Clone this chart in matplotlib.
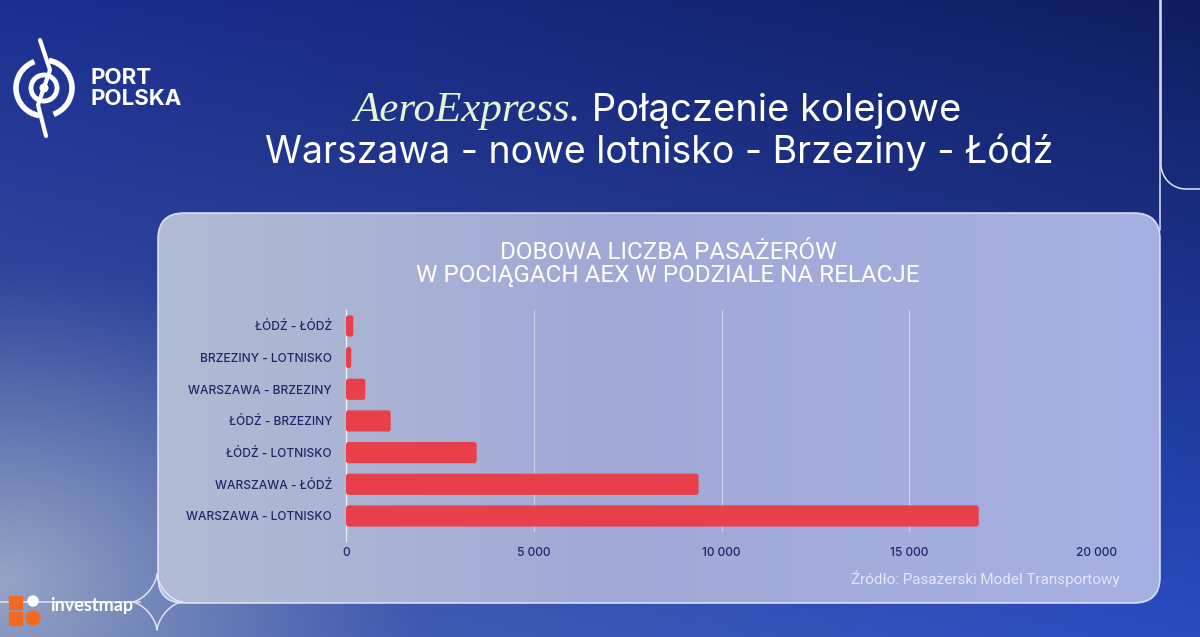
import numpy as np
import matplotlib
matplotlib.use("Agg")
import matplotlib.pyplot as plt
from matplotlib.patches import FancyBboxPatch, Circle, Arc, Rectangle
from matplotlib.colors import to_rgb

# ---------------- data ----------------
categories = ["WARSZAWA - LOTNISKO", "WARSZAWA - ŁÓDŹ", "ŁÓDŹ - LOTNISKO",
              "ŁÓDŹ - BRZEZINY", "WARSZAWA - BRZEZINY", "BRZEZINY - LOTNISKO",
              "ŁÓDŹ - ŁÓDŹ"]
passengers = [16850, 9390, 3480, 1190, 515, 140, 195]
xticks = [0, 5000, 10000, 15000, 20000]
xtick_labels = ["0", "5 000", "10 000", "15 000", "20 000"]

title_italic = "AeroExpress."
title_rest = " Połączenie kolejowe"
title_line2 = "Warszawa - nowe lotnisko - Brzeziny - Łódź"
chart_title = "DOBOWA LICZBA PASAŻERÓW\nW POCIĄGACH AEX W PODZIALE NA RELACJE"
source = "Źródło: Pasażerski Model Transportowy"

W, H = 1200, 637
fig = plt.figure(figsize=(W / 100, H / 100), dpi=100)

# ---------------- background ----------------
bg = fig.add_axes([0, 0, 1, 1])
bg.set_xlim(0, W)
bg.set_ylim(H, 0)
bg.axis("off")

yy, xx = np.mgrid[0:H, 0:W]
u = xx / W
v = yy / H
TL, TR, BL, BR = (np.array(to_rgb(c)) for c in ("#1b2f92", "#101d5e", "#4a62a8", "#2a4cc2"))
img = ((1 - u)[..., None] * (1 - v)[..., None] * TL + u[..., None] * (1 - v)[..., None] * TR
       + (1 - u)[..., None] * v[..., None] * BL + u[..., None] * v[..., None] * BR)
# grayish glow bottom-left
d = np.sqrt(((xx - 0) / 430.0) ** 2 + ((yy - 580) / 320.0) ** 2)
g = np.clip(1 - d, 0, 1)[..., None] ** 1.2
img = img * (1 - 0.8 * g) + np.array(to_rgb("#aab6cd")) * 0.8 * g
bg.imshow(img, extent=(0, W, H, 0), aspect="auto", zorder=0)

# panel with gradient fill
px0, py0, px1, py1 = 158, 213, 1160, 603
panel = FancyBboxPatch((px0, py0), px1 - px0, py1 - py0,
                       boxstyle="round,pad=0,rounding_size=26",
                       facecolor="none", edgecolor="none", transform=bg.transData)
bg.add_patch(panel)
pu = np.linspace(0, 1, 400)[None, :, None]
pv = np.linspace(0, 1, 100)[:, None, None]
pl = np.array(to_rgb("#b2bcd3"))
pm = np.array(to_rgb("#a0a9d6"))
pr = np.array(to_rgb("#a6b0e2"))
pimg = np.where(pu < 0.45, pl + (pm - pl) * (pu / 0.45), pm + (pr - pm) * ((pu - 0.45) / 0.55))
pimg = pimg * np.ones_like(pv)
pim = bg.imshow(pimg, extent=(px0, px1, py1, py0), aspect="auto", zorder=1)
pim.set_clip_path(panel)
border = FancyBboxPatch((px0, py0), px1 - px0, py1 - py0,
                        boxstyle="round,pad=0,rounding_size=26",
                        facecolor="none", edgecolor="#e8ecff", lw=1.2, alpha=0.85, zorder=2)
bg.add_patch(border)

# decorative lines
lc = "#dfe4f5"
bg.plot([1160, 1160], [0, 230], color=lc, lw=1.1, zorder=2)
t = np.linspace(np.pi, np.pi / 2, 30)
bg.plot(np.r_[1161, 1161, 1186 + 25 * np.cos(t), 1200],
        np.r_[0, 164, 164 + 25 * np.sin(t) * 1.0, 189], color=lc, lw=1.1, zorder=2)
bg.plot([0, 140], [602, 602], color=lc, lw=1.1, zorder=2)
ts = np.linspace(0, 2 * np.pi, 200)
bg.plot(157 + 25 * np.cos(ts) ** 3, 602 + 28 * np.sin(ts) ** 3, color=lc, lw=1.1, zorder=2)

# logo
cx, cy = 44, 88
bg.add_patch(Arc((cx, cy), 56, 56, theta1=100, theta2=250, color="white", lw=4, zorder=3))
bg.add_patch(Arc((cx, cy), 56, 56, theta1=-80, theta2=70, color="white", lw=4, zorder=3))
bg.add_patch(Circle((cx, cy), 13, facecolor="none", edgecolor="white", lw=3.5, zorder=3))
bg.add_patch(Circle((cx, cy), 4.5, facecolor="white", edgecolor="none", zorder=3))
bg.plot([40, 50, 38, 46], [40, 70, 105, 136], color="white", lw=3, zorder=3,
        solid_capstyle="round")
bg.text(90, 78, "PORT", color="white", fontsize=16, fontweight="bold", family="Inter",
        va="center", ha="left", zorder=3)
bg.text(90, 99, "POLSKA", color="white", fontsize=16, fontweight="bold", family="Inter",
        va="center", ha="left", zorder=3)

# investmap watermark
oc = "#f26a21"
bg.add_patch(Rectangle((9, 596), 13, 13, color=oc, zorder=3))
bg.add_patch(Rectangle((9, 612), 13, 13, color=oc, zorder=3))
bg.add_patch(Circle((33, 618), 7, color=oc, zorder=3))
bg.add_patch(Circle((33, 601), 5, color="white", zorder=3))
bg.text(50, 606, "investmap", color="white", fontsize=13, fontweight="bold", family="Lato",
        va="center", ha="left", zorder=3)

# titles
fig.canvas.draw()
r = fig.canvas.get_renderer()
t1 = bg.text(0, 121, title_italic, color="#e3f5d5", fontsize=31, family="Liberation Serif",
             style="italic", va="baseline", ha="left", zorder=3)
t2 = bg.text(0, 121, title_rest, color="white", fontsize=27.5, family="Inter",
             va="baseline", ha="left", zorder=3)
w1 = t1.get_window_extent(r).width
w2 = t2.get_window_extent(r).width
x0 = 657 - (w1 + w2) / 2
t1.set_x(x0)
t2.set_x(x0 + w1)
bg.text(659, 163, title_line2, color="white", fontsize=27, family="Inter",
        va="baseline", ha="center", zorder=3)

bg.text(668, 264, chart_title, color="white", fontsize=17.5, family="Roboto",
        va="center", ha="center", linespacing=1.0, zorder=3)
bg.text(1120, 579, source, color="#f0f2fc", alpha=0.85, fontsize=11, family="Roboto",
        va="center", ha="right", zorder=3)

# ---------------- chart ----------------
ax = fig.add_axes([346 / W, (H - 531.8) / H, 751 / W, 221.7 / H])
ax.patch.set_alpha(0)
ypos = np.arange(len(categories))
bars = ax.barh(ypos, passengers, height=0.67, color="#e8404b", zorder=3)
ax.set_xlim(0, 20000)
ax.set_ylim(-0.5, len(categories) - 0.5)

# rounded corners: replace each bar rectangle with a rounded box of the same extent
xpp = 20000 / 751.0
ypp = len(categories) / 221.7
for b in bars:
    x, y = b.get_xy()
    w, h = b.get_width(), b.get_height()
    rb = FancyBboxPatch((x, y), w, h, boxstyle="round,pad=0,rounding_size=%f" % (2.5 * xpp),
                        mutation_aspect=ypp / xpp, facecolor="#e8404b", edgecolor="none",
                        zorder=3)
    b.set_visible(False)
    ax.add_patch(rb)

ax.set_xticks(xticks)
ax.set_xticklabels(xtick_labels)
ax.set_yticks(ypos)
ax.set_yticklabels(categories)
for s in ax.spines.values():
    s.set_visible(False)
ax.tick_params(axis="both", length=0, colors="#1f2668", labelsize=8.6)
ax.tick_params(axis="x", pad=11)
ax.tick_params(axis="y", pad=10)
for lab in ax.get_xticklabels() + ax.get_yticklabels():
    lab.set_family("Inter")
    lab.set_fontweight("medium")
ax.set_axisbelow(True)
ax.xaxis.grid(True, color="white", alpha=0.45, lw=0.9)
ax.axvline(0, color="white", alpha=0.7, lw=1, ymin=-0.04, ymax=1, clip_on=False, zorder=2)

fig.savefig("out.png", dpi=100)
